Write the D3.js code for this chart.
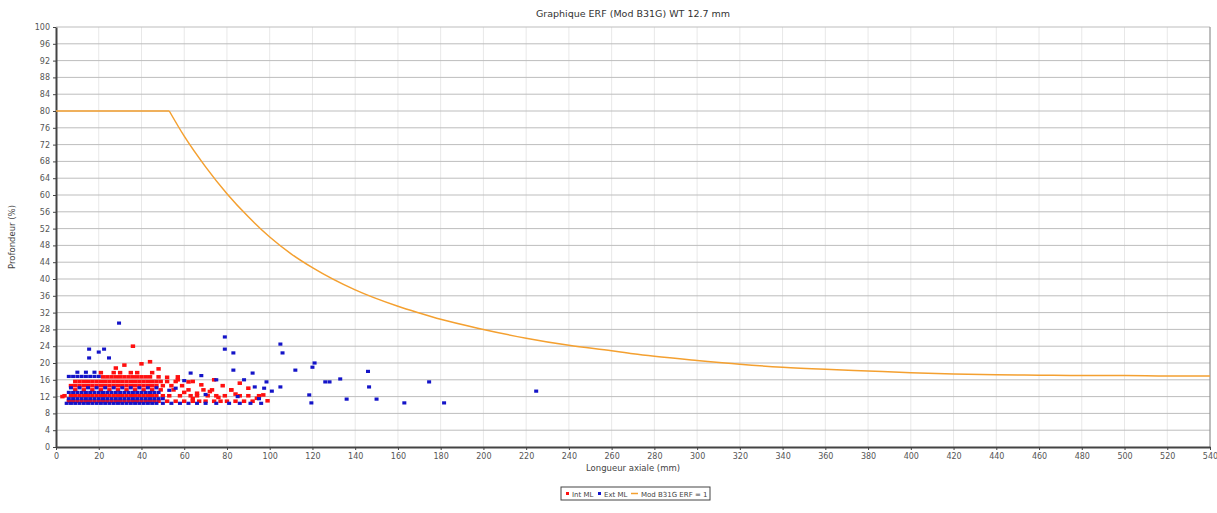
<!DOCTYPE html>
<html>
<head>
<meta charset="utf-8">
<script src="https://cdn.jsdelivr.net/npm/d3@7"></script>
<style>
    body { margin: 0; background: #fff; }
    text { font-family: "DejaVu Sans", sans-serif; }
    .axis text { font-size: 8px; fill: #555; }
    .axis .domain { stroke: #444; stroke-width: 2; }
    .axis .tick line { stroke: #444; }
</style>
</head>
<body>
<div id="chart"></div>
<script>

// ---- data ----
let xTicks = d3.range(0, 541, 20);
let yTicks = d3.range(0, 101, 4);

// Mod B31G ERF = 1 curve (length mm, depth %)
let curveLength = [0, 53, 60, 70, 80, 90, 100, 110, 120, 140, 160, 170, 180, 200, 220, 240, 260, 270, 280, 300, 320, 340, 360, 380, 400, 420, 440, 460, 480, 500, 520, 540];
let curveDepth  = [80, 80, 74.0, 66.7, 60.3, 54.8, 50.0, 46.0, 42.7, 37.4, 33.5, 31.9, 30.4, 28, 25.9, 24.2, 22.9, 22.2, 21.6, 20.6, 19.7, 19.0, 18.5, 18.1, 17.7, 17.4, 17.2, 17.1, 17.0, 17.0, 16.9, 16.9];

// Int ML (red) rows of the dense cluster
let intRows = [
    {depth: 10.9, lengths: [6, 8, 10, 12, 14, 16, 18, 20, 22, 24, 26, 28, 30, 32, 34, 36, 38, 40, 42, 44, 46, 48, 52, 56, 60, 64, 67, 70, 74, 77, 80, 84, 88, 92]},
    {depth: 12.2, lengths: [4, 7, 9, 11, 13, 15, 17, 19, 21, 23, 25, 27, 29, 31, 33, 35, 37, 39, 41, 43, 45, 47, 50, 53, 58, 63, 66, 71, 75, 79, 86, 90, 95]},
    {depth: 13.6, lengths: [9, 13, 17, 21, 25, 29, 33, 37, 41, 45, 49, 55, 62, 69, 73, 82]},
    {depth: 14.6, lengths: [7, 9, 11, 13, 15, 17, 19, 21, 23, 25, 27, 29, 31, 33, 35, 37, 39, 41, 43, 45, 47, 50, 54, 59, 78]},
    {depth: 15.6, lengths: [9, 11, 13, 15, 17, 19, 21, 23, 25, 27, 29, 31, 33, 35, 37, 39, 41, 43, 45, 47, 49, 52, 56, 64]},
    {depth: 16.7, lengths: [22, 24, 26, 28, 30, 32, 34, 36, 38, 40, 42, 44, 48, 57]},
    {depth: 17.7, lengths: [21, 27, 30, 35, 38, 45]}
];
let intExtra = [[36, 24], [3, 12], [40, 19.8], [44, 20.3], [48, 18.6], [32, 19.5], [28, 18.8], [52, 16.6], [57, 16],
    [60, 13], [64, 11.5], [66, 12.8], [72, 13.2], [76, 11.8], [82, 13.6], [84, 12.6], [94, 11.6], [97, 12.4],
    [99, 11], [62, 15.5], [68, 14.8], [74, 16], [90, 14], [86, 15.2]];

// Ext ML (blue) rows of the dense cluster
let extRows = [
    {depth: 10.4, lengths: [5, 7, 9, 11, 13, 15, 17, 19, 21, 23, 25, 27, 29, 31, 33, 35, 37, 39, 41, 43, 45, 47, 50, 54, 58, 62, 66, 70, 75, 81, 86, 91, 96]},
    {depth: 11.5, lengths: [6, 8, 10, 12, 14, 16, 18, 20, 22, 24, 26, 28, 30, 32, 34, 36, 38, 40, 42, 44, 46, 48, 50]},
    {depth: 13.0, lengths: [6, 8, 10, 12, 14, 16, 18, 20, 22, 24, 26, 28, 30, 32, 34, 36, 38, 40, 42, 44, 46, 48]},
    {depth: 14.1, lengths: [7, 11, 15, 19, 23, 27, 31, 35, 39, 43, 47]},
    {depth: 16.8, lengths: [6, 8, 10, 12, 14, 16, 18, 20]},
    {depth: 17.8, lengths: [10, 14, 18]}
];
let extExtra = [[29.5, 29.5], [15.5, 23.3], [15.5, 21.2], [20, 22.6], [22.5, 23.3], [24.8, 21.2], [79, 26.2], [79, 23.3],
    [83, 22.4], [105, 24.5], [106, 22.4], [112, 18.3], [105, 14.3], [97.4, 14], [63, 17.6], [83, 18.3], [92, 17.6],
    [121, 20], [120, 19], [126, 15.5], [128, 15.5], [133, 16.2], [146, 18], [146.5, 14.3], [118.5, 12.4],
    [119.5, 10.5], [136, 11.4], [150, 11.4], [163, 10.5], [174.6, 15.5], [181.6, 10.5], [224.7, 13.3], [93, 14.3],
    [98.5, 15.5], [101, 13.3], [68, 17], [75, 16], [88, 16], [60, 15.8], [56, 14], [53, 13.5], [70, 12.5], [85, 12], [95, 11.5]];

let legendLabels = ["Int ML", "Ext ML", "Mod B31G ERF = 1"];
let colors = ["#ff1010", "#1414c8", "#f4a030"];

// ---- drawing ----
let margin = {top: 27, right: 7, bottom: 66, left: 56};
let width = 1217 - margin.left - margin.right;
let height = 513 - margin.top - margin.bottom;

let svg = d3.select("#chart").append("svg")
    .attr("width", 1217)
    .attr("height", 513)
    .append("g")
    .attr("transform", "translate(" + margin.left + "," + margin.top + ")");

let x = d3.scaleLinear().domain([0, 540]).range([0, width]);
let y = d3.scaleLinear().domain([0, 100]).range([height, 0]);

// grid
svg.append("g").selectAll("line.vgrid")
    .data(xTicks.slice(1))
    .join("line")
    .attr("x1", d => x(d)).attr("x2", d => x(d))
    .attr("y1", 0).attr("y2", height)
    .attr("stroke", "#e8e8e8");

svg.append("g").selectAll("line.hgrid")
    .data(yTicks.slice(1))
    .join("line")
    .attr("x1", 0).attr("x2", width)
    .attr("y1", d => y(d)).attr("y2", d => y(d))
    .attr("stroke", "#bdbdbd");

// right border
svg.append("line")
    .attr("x1", width).attr("x2", width)
    .attr("y1", 0).attr("y2", height)
    .attr("stroke", "#888");

// axes
svg.append("g")
    .attr("class", "axis")
    .attr("transform", "translate(0," + height + ")")
    .call(d3.axisBottom(x).tickValues(xTicks).tickSize(3).tickSizeOuter(0));

svg.append("g")
    .attr("class", "axis")
    .call(d3.axisLeft(y).tickValues(yTicks).tickSize(3).tickSizeOuter(0));

// scatter points
let intData = intRows.flatMap(r => r.lengths.map(l => [l, r.depth])).concat(intExtra);
let extData = extRows.flatMap(r => r.lengths.map(l => [l, r.depth])).concat(extExtra);

svg.append("g").selectAll("rect")
    .data(intData)
    .join("rect")
    .attr("x", d => x(d[0]) - 2.2)
    .attr("y", d => y(d[1]) - 1.8)
    .attr("width", 4.4)
    .attr("height", 3.6)
    .attr("fill", colors[0]);

svg.append("g").selectAll("rect")
    .data(extData)
    .join("rect")
    .attr("x", d => x(d[0]) - 2)
    .attr("y", d => y(d[1]) - 1.6)
    .attr("width", 4)
    .attr("height", 3.2)
    .attr("fill", colors[1]);

// ERF curve: flat plateau, then the decay (drawn apart to keep the corner sharp)
let pts = curveLength.map((l, i) => [l, curveDepth[i]]);

let line = d3.line()
    .x(d => x(d[0]))
    .y(d => y(d[1]));

svg.append("path")
    .datum(pts.slice(0, 2))
    .attr("d", line)
    .attr("fill", "none")
    .attr("stroke", colors[2])
    .attr("stroke-width", 1.5);

svg.append("path")
    .datum(pts.slice(1))
    .attr("d", line.curve(d3.curveMonotoneX))
    .attr("fill", "none")
    .attr("stroke", colors[2])
    .attr("stroke-width", 1.5);

// title and labels
svg.append("text")
    .attr("x", width / 2)
    .attr("y", -10)
    .attr("text-anchor", "middle")
    .attr("font-size", "9.5px")
    .attr("fill", "#333")
    .text("Graphique ERF (Mod B31G) WT 12.7 mm");

svg.append("text")
    .attr("x", width / 2)
    .attr("y", height + 24)
    .attr("text-anchor", "middle")
    .attr("font-size", "8.5px")
    .attr("fill", "#444")
    .text("Longueur axiale (mm)");

svg.append("text")
    .attr("transform", "translate(-41," + (height / 2) + ") rotate(-90)")
    .attr("text-anchor", "middle")
    .attr("font-size", "8.5px")
    .attr("fill", "#444")
    .text("Profondeur (%)");

// legend
let legend = svg.append("g")
    .attr("transform", "translate(505," + (height + 40) + ")");

legend.append("rect")
    .attr("width", 149)
    .attr("height", 13)
    .attr("fill", "#fff")
    .attr("stroke", "#444");

let legendX = [5, 37, 70];
legendLabels.forEach((lab, i) => {
    if (i < 2) {
        legend.append("rect")
            .attr("x", legendX[i]).attr("y", 5)
            .attr("width", 3).attr("height", 3)
            .attr("fill", colors[i]);
    } else {
        legend.append("line")
            .attr("x1", legendX[i]).attr("x2", legendX[i] + 7)
            .attr("y1", 6.5).attr("y2", 6.5)
            .attr("stroke", colors[i])
            .attr("stroke-width", 1.5);
    }
    legend.append("text")
        .attr("x", legendX[i] + (i < 2 ? 6 : 10))
        .attr("y", 9.5)
        .attr("font-size", "7px")
        .attr("fill", "#444")
        .text(lab);
});

</script>
</body>
</html>
